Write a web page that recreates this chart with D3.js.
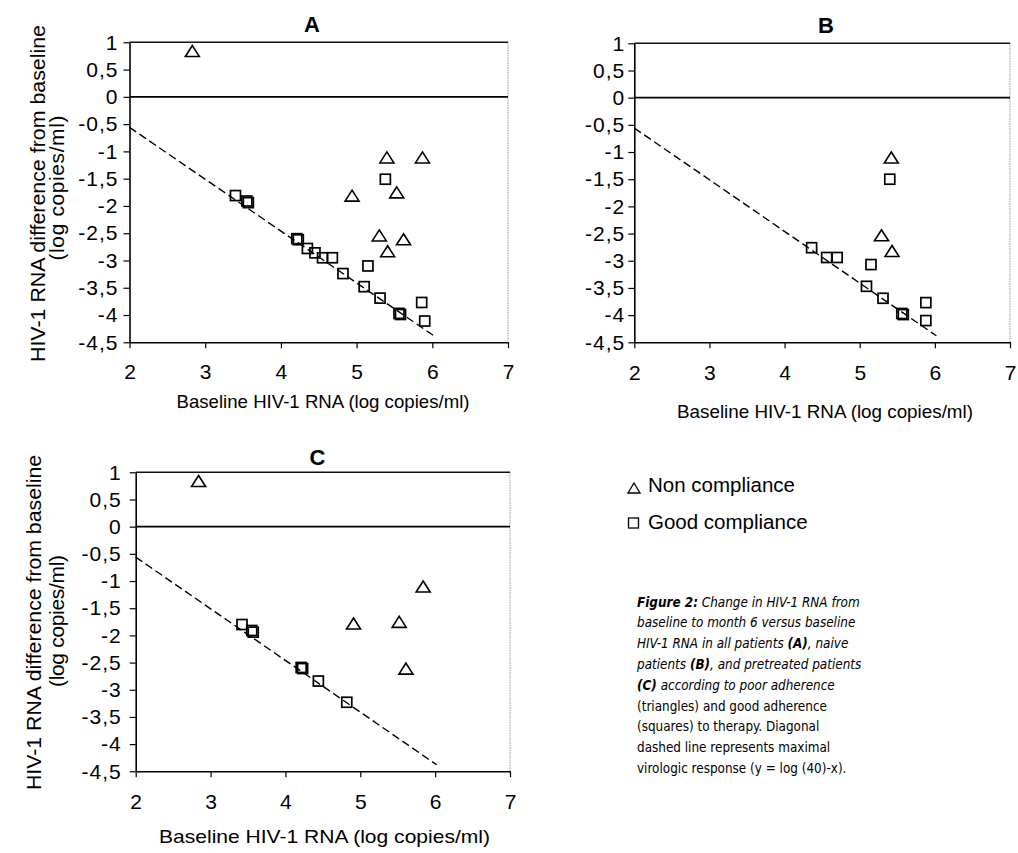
<!DOCTYPE html>
<html><head><meta charset="utf-8">
<script src="https://cdn.jsdelivr.net/npm/d3@7"></script>
<style>body{margin:0;background:#fff} svg{display:block}</style>
</head><body><svg id="c" width="1018" height="853"></svg>
<script>
// ---------- data ----------
const xTicks = [2, 3, 4, 5, 6, 7];
const yTicks = [1, 0.5, 0, -0.5, -1, -1.5, -2, -2.5, -3, -3.5, -4, -4.5];
const yTickLabels = ["1", "0,5", "0", "-0,5", "-1", "-1,5", "-2", "-2,5", "-3", "-3,5", "-4", "-4,5"];
const maxRespX = [2, 6.02];
const maxRespY = [-0.56, -4.38];

const aTriX = [2.83, 5.40, 5.87, 4.94, 5.53, 5.30, 5.62, 5.41];
const aTriY = [0.83, -1.12, -1.12, -1.82, -1.76, -2.55, -2.62, -2.84];
const aSqX = [3.40, 3.55, 3.57, 4.21, 4.23, 4.35, 4.45, 4.55, 4.68, 4.82, 5.15, 5.10, 5.31, 5.38, 5.56, 5.58, 5.86, 5.90];
const aSqY = [-1.81, -1.91, -1.94, -2.60, -2.62, -2.78, -2.86, -2.95, -2.95, -3.24, -3.10, -3.48, -3.69, -1.51, -3.97, -3.99, -3.77, -4.11];

const bTriX = [5.42, 5.29, 5.43];
const bTriY = [-1.11, -2.54, -2.83];
const bSqX = [5.40, 4.36, 4.56, 4.70, 5.15, 5.09, 5.31, 5.56, 5.58, 5.88, 5.88];
const bSqY = [-1.50, -2.76, -2.94, -2.94, -3.07, -3.47, -3.69, -3.97, -3.99, -3.77, -4.10];

const cTriX = [2.84, 5.84, 4.91, 5.52, 5.61];
const cTriY = [0.83, -1.11, -1.79, -1.76, -2.62];
const cSqX = [3.42, 3.55, 3.57, 4.21, 4.23, 4.44, 4.82];
const cSqY = [-1.80, -1.91, -1.94, -2.59, -2.61, -2.84, -3.23];

const panelTitles = ["A", "B", "C"];
const xTitle = "Baseline HIV-1 RNA (log copies/ml)";
const yTitle1 = "HIV-1 RNA difference from baseline";
const yTitle2 = "(log copies/ml)";
const legendLabels = ["Non compliance", "Good compliance"];
const captionLines = [
  [["Figure 2:", "bi"], [" Change in HIV-1 RNA from", "i"]],
  [["baseline to month 6 versus baseline", "i"]],
  [["HIV-1 RNA in all patients ", "i"], ["(A)", "bi"], [", naive", "i"]],
  [["patients ", "i"], ["(B)", "bi"], [", and pretreated patients", "i"]],
  [["(C)", "bi"], [" according to poor adherence", "i"]],
  [["(triangles) and good adherence", "n"]],
  [["(squares) to therapy. Diagonal", "n"]],
  [["dashed line represents maximal", "n"]],
  [["virologic response (y = log (40)-x).", "n"]]
];

// ---------- layout ----------
const FONT = "'Liberation Sans', Arial, sans-serif";
const svg = d3.select("#c");
const zip = (a, b) => a.map((v, i) => [v, b[i]]);

const panels = [
  { title: panelTitles[0], x0: 129.5, x1: 508, yT: 42.3, yB: 342.3, tPos: [312, 32],
    xt: [323, 408, 293], xPad: 15.6, yOff: 11,
    yt: { x1: 37, x2: 56, cy1: 193.5, cy2: 188, len1: 337, len2: 145 },
    tri: zip(aTriX, aTriY), sq: zip(aSqX, aSqY) },
  { title: panelTitles[1], x0: 634.3, x1: 1010, yT: 43.3, yB: 342.3, tPos: [826, 33],
    xt: [825, 418, 296], xPad: 16.5, yOff: 9, yt: null,
    tri: zip(bTriX, bTriY), sq: zip(bSqX, bSqY) },
  { title: panelTitles[2], x0: 135.7, x1: 510, yT: 472.3, yB: 771.3, tPos: [317.5, 465],
    xt: [324.5, 843, 331], xPad: 16.6, yOff: 14,
    yt: { x1: 33, x2: 56, cy1: 622.5, cy2: 621, len1: 335, len2: 132 },
    tri: zip(cTriX, cTriY), sq: zip(cSqX, cSqY) }
];

const triPath = "M0,-6L7,5L-7,5Z";

panels.forEach(p => {
  const x = d3.scaleLinear().domain([2, 7]).range([p.x0, p.x1]);
  const y = d3.scaleLinear().domain([-4.5, 1]).range([p.yB, p.yT]);
  const g = svg.append("g");

  // right border (light, dotted)
  g.append("line").attr("x1", x(7)).attr("x2", x(7)).attr("y1", y(1)).attr("y2", y(-4.5))
    .attr("stroke", "#999").attr("stroke-width", 1).attr("stroke-dasharray", "1.5,1");
  // top border
  g.append("line").attr("x1", x(2)).attr("x2", x(7)).attr("y1", y(1)).attr("y2", y(1))
    .attr("stroke", "#111").attr("stroke-width", 1.4);
  // zero line
  g.append("line").attr("x1", x(2)).attr("x2", x(7)).attr("y1", y(0)).attr("y2", y(0))
    .attr("stroke", "#000").attr("stroke-width", 1.6);

  // axes
  const ya = g.append("g").attr("transform", `translate(${p.x0},0)`)
    .call(d3.axisLeft(y).tickValues(yTicks).tickFormat((d, i) => yTickLabels[i])
      .tickSize(6).tickSizeOuter(0).tickPadding(p.yOff - 6));
  const xa = g.append("g").attr("transform", `translate(0,${p.yB})`)
    .call(d3.axisBottom(x).tickValues(xTicks).tickFormat(d3.format("d"))
      .tickSize(6).tickSizeOuter(0).tickPadding(p.xPad));
  [ya, xa].forEach(a => {
    a.select(".domain").attr("stroke", "#000").attr("stroke-width", 1.6);
    a.selectAll(".tick line").attr("stroke", "#000").attr("stroke-width", 1.2);
    a.selectAll(".tick text").attr("font-family", FONT).attr("font-size", 21).attr("fill", "#000");
  });
  ya.selectAll(".tick text").attr("letter-spacing", 1);

  // maximal virologic response line
  g.append("path").datum(zip(maxRespX, maxRespY))
    .attr("d", d3.line().x(d => x(d[0])).y(d => y(d[1])))
    .attr("fill", "none").attr("stroke", "#000").attr("stroke-width", 1.4)
    .attr("stroke-dasharray", "8,4");

  // markers
  g.selectAll(".sq").data(p.sq).enter().append("rect")
    .attr("x", d => x(d[0]) - 5).attr("y", d => y(d[1]) - 5)
    .attr("width", 10).attr("height", 10)
    .attr("fill", "none").attr("stroke", "#000").attr("stroke-width", 1.7);
  g.selectAll(".tri").data(p.tri).enter().append("path")
    .attr("d", triPath).attr("transform", d => `translate(${x(d[0])},${y(d[1])})`)
    .attr("fill", "none").attr("stroke", "#000").attr("stroke-width", 1.6)
    .attr("stroke-linejoin", "miter");

  // panel title
  g.append("text").attr("x", p.tPos[0]).attr("y", p.tPos[1]).attr("text-anchor", "middle")
    .attr("font-family", FONT).attr("font-weight", "bold").attr("font-size", 22).text(p.title);

  // x title
  g.append("text").attr("x", p.xt[0]).attr("y", p.xt[1]).attr("text-anchor", "middle")
    .attr("font-family", FONT).attr("font-size", 19)
    .attr("textLength", p.xt[2]).attr("lengthAdjust", "spacingAndGlyphs").text(xTitle);

  // y title
  if (p.yt) {
    g.append("text").attr("transform", `translate(${p.yt.x1},${p.yt.cy1}) rotate(-90)`)
      .attr("text-anchor", "middle").attr("dominant-baseline", "central")
      .attr("font-family", FONT).attr("font-size", 21)
      .attr("textLength", p.yt.len1).attr("lengthAdjust", "spacingAndGlyphs").text(yTitle1);
    g.append("text").attr("transform", `translate(${p.yt.x2},${p.yt.cy2}) rotate(-90)`)
      .attr("text-anchor", "middle").attr("dominant-baseline", "central")
      .attr("font-family", FONT).attr("font-size", 21)
      .attr("textLength", p.yt.len2).attr("lengthAdjust", "spacing").text(yTitle2);
  }
});

// ---------- legend ----------
const lg = svg.append("g");
lg.append("path").attr("d", "M0,-5L6,5L-6,5Z").attr("transform", "translate(634,488)")
  .attr("fill", "none").attr("stroke", "#000").attr("stroke-width", 1.3);
lg.append("rect").attr("x", 628.5).attr("y", 518).attr("width", 10).attr("height", 10)
  .attr("fill", "none").attr("stroke", "#000").attr("stroke-width", 1.3);
lg.append("text").attr("x", 648).attr("y", 492).attr("font-family", FONT).attr("font-size", 20.5).text(legendLabels[0]);
lg.append("text").attr("x", 648).attr("y", 528.5).attr("font-family", FONT).attr("font-size", 20.5).text(legendLabels[1]);

// ---------- caption ----------
const CAPFONT = "'DejaVu Sans Condensed', 'DejaVu Sans', Verdana, sans-serif";
const cap = svg.append("g");
const capTexts = captionLines.map((segs, i) => {
  const t = cap.append("text").attr("x", 637).attr("y", 606.5 + i * 20.8)
    .attr("font-family", CAPFONT).attr("font-size", 13).attr("fill", "#000");
  segs.forEach(s => {
    t.append("tspan").text(s[0])
      .attr("font-style", s[1] === "n" ? "normal" : "italic")
      .attr("font-weight", s[1] === "bi" ? "bold" : "normal");
  });
  return t;
});
const w0 = capTexts[0].node().getComputedTextLength();
const capSize = 13 * 223 / w0;
capTexts.forEach(t => t.attr("font-size", capSize));
</script></body></html>
